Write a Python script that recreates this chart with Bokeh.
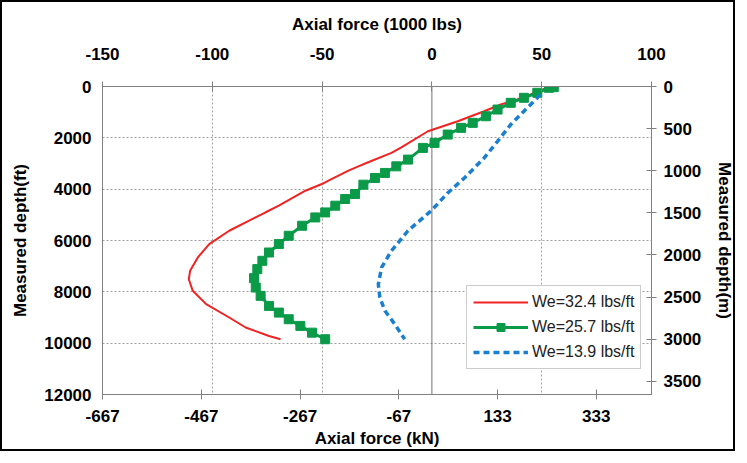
from bokeh.plotting import figure
from bokeh.models import Range1d, LinearAxis, FixedTicker, Span, Legend, LegendItem
from bokeh.embed import file_html
from bokeh.resources import INLINE

# ---------------- data (force in 1000 lbs, depth in ft) ----------------
red_force = [52.5, 44.9, 38.9, 31.4, 23.8, 11.8, -1.8, -13.9, -18.4, -29.0, -33.5, -38.0,
             -47.1, -50.1, -57.6, -69.7, -75.7, -83.0, -92.3, -101.4, -106.6, -110.1,
             -110.7, -108.9, -102.8, -92.3, -84.8, -74.2, -68.9]
red_depth = [50, 312, 507, 703, 964, 1354, 1744, 2370, 2588, 2950, 3111, 3280,
             3668, 3800, 4060, 4644, 4900, 5220, 5620, 6140, 6660, 7180,
             7510, 7960, 8480, 9000, 9390, 9720, 9847]

green_force = [55.5, 53.3, 48.0, 41.9, 35.9, 29.9, 24.6, 18.6, 13.3, 7.2, 1.2, -4.1,
               -10.9, -16.2, -21.4, -25.9, -31.2, -35.0, -39.5, -44.0, -48.6, -53.1,
               -59.1, -65.2, -69.7, -74.2, -77.2, -79.5, -81.0, -80.2, -78.0, -74.2,
               -69.7, -65.2, -59.9, -54.6, -48.6]
green_depth = [25, 51, 246, 441, 636, 898, 1159, 1417, 1612, 1873, 2197, 2393,
               2849, 3111, 3368, 3563, 3825, 4188, 4383, 4644, 4906, 5101,
               5425, 5815, 6140, 6467, 6791, 7115, 7466, 7833, 8157, 8548,
               8809, 9067, 9328, 9590, 9847]

blue_force = [49.2, 48.0, 41.9, 35.9, 29.9, 23.8, 14.8, 7.2, -0.3, -10.9, -18.4, -22.9,
              -24.4, -23.7, -21.4, -16.9, -12.4]
blue_depth = [312, 441, 964, 1483, 2135, 2783, 3563, 4149, 4840, 5620, 6400, 7050,
              7700, 8220, 8740, 9260, 9850]

series_labels = ["We=32.4 lbs/ft", "We=25.7 lbs/ft", "We=13.9 lbs/ft"]
series_colors = ["#f02323", "#0a9a48", "#1b7fcf"]

top_ticks = [-150, -100, -50, 0, 50, 100]          # 1000 lbs
bottom_ticks = [-667, -467, -267, -67, 133, 333]   # kN
left_ticks = [0, 2000, 4000, 6000, 8000, 10000, 12000]  # ft
right_ticks = [0, 500, 1000, 1500, 2000, 2500, 3000, 3500]  # m
grid_x = [-100, -50, 50]
grid_y = [2000, 4000, 6000, 8000, 10000]

KIPS_TO_KN = 4.448
FT_TO_M = 0.3048
X_MIN, X_MAX = -150, 100
D_MAX = 12000

FONT = "Liberation Sans"

p = figure(width=735, height=451, output_backend="svg", toolbar_location=None,
           x_range=Range1d(X_MIN, X_MAX), y_range=Range1d(D_MAX, 0),
           x_axis_location="above",
           min_border_left=100, min_border_right=82, min_border_top=84, min_border_bottom=59)
p.styles = {"border": "2px solid black"}
p.outline_line_color = "#808080"
p.outline_line_width = 1

p.extra_x_ranges = {"kn": Range1d(X_MIN * KIPS_TO_KN, X_MAX * KIPS_TO_KN)}
p.extra_y_ranges = {"m": Range1d(D_MAX * FT_TO_M, 0)}

bottom_axis = LinearAxis(x_range_name="kn")
right_axis = LinearAxis(y_range_name="m")
p.add_layout(bottom_axis, "below")
p.add_layout(right_axis, "right")

top_axis = p.xaxis[0] if p.xaxis[0] is not bottom_axis else p.xaxis[1]
left_axis = p.yaxis[0] if p.yaxis[0] is not right_axis else p.yaxis[1]

for ax, ticks in [(top_axis, top_ticks), (bottom_axis, bottom_ticks),
                  (left_axis, left_ticks), (right_axis, right_ticks)]:
    ax.ticker = FixedTicker(ticks=ticks)
    ax.major_label_overrides = {t: str(t) for t in ticks}

top_axis.axis_label = "Axial force (1000 lbs)"
bottom_axis.axis_label = "Axial force (kN)"
left_axis.axis_label = "Measured depth(ft)"
right_axis.axis_label = "Measured depth(m)"

for ax in [top_axis, bottom_axis, left_axis, right_axis]:
    ax.axis_line_color = "#808080"
    ax.major_tick_line_color = "#808080"
    ax.minor_tick_line_color = None
    ax.major_label_text_font = FONT
    ax.major_label_text_font_style = "bold"
    ax.major_label_text_font_size = "17px"
    ax.major_label_text_color = "#000000"
    ax.axis_label_text_font = FONT
    ax.axis_label_text_font_style = "bold"
    ax.axis_label_text_font_size = "17px"
    ax.axis_label_text_color = "#000000"
    ax.major_tick_in = 5
    ax.major_tick_out = 5

left_axis.major_tick_in = 0
left_axis.major_tick_out = 0
left_axis.major_label_standoff = 11
left_axis.axis_label_standoff = 11
top_axis.major_label_standoff = 22
top_axis.axis_label_standoff = 11
bottom_axis.major_label_standoff = 10
bottom_axis.axis_label_standoff = 4
right_axis.major_label_standoff = 7
right_axis.axis_label_standoff = 11

p.xgrid.ticker = FixedTicker(ticks=grid_x)
p.ygrid.ticker = FixedTicker(ticks=grid_y)
for g in [p.xgrid[0], p.ygrid[0]]:
    g.grid_line_color = "#a0a0a0"
    g.grid_line_dash = "2 2"
    g.grid_line_width = 1

p.add_layout(Span(location=0, dimension="height", line_color="#707070", line_width=1, level="underlay"))

r_red = p.line(red_force, red_depth, line_color=series_colors[0], line_width=2)
r_green_l = p.line(green_force, green_depth, line_color=series_colors[1], line_width=3)
r_green_m = p.scatter(green_force, green_depth, marker="square", size=9,
                      fill_color=series_colors[1], line_color=series_colors[1])
r_blue = p.line(blue_force, blue_depth, line_color=series_colors[2], line_width=3.5, line_dash="6 4")

legend = Legend(items=[
    LegendItem(label=series_labels[0], renderers=[r_red]),
    LegendItem(label=series_labels[1], renderers=[r_green_l, r_green_m]),
    LegendItem(label=series_labels[2], renderers=[r_blue]),
], location=(364, 25))
legend.label_text_font = FONT
legend.label_text_font_size = "16px"
legend.label_text_color = "#222222"
legend.glyph_width = 55
legend.glyph_height = 20
legend.label_height = 20
legend.label_standoff = 4
legend.spacing = 5
legend.padding = 6
legend.margin = 0
legend.border_line_color = "#999999"
legend.background_fill_alpha = 1
p.add_layout(legend)

open("out.html", "w").write(file_html(p, INLINE))
